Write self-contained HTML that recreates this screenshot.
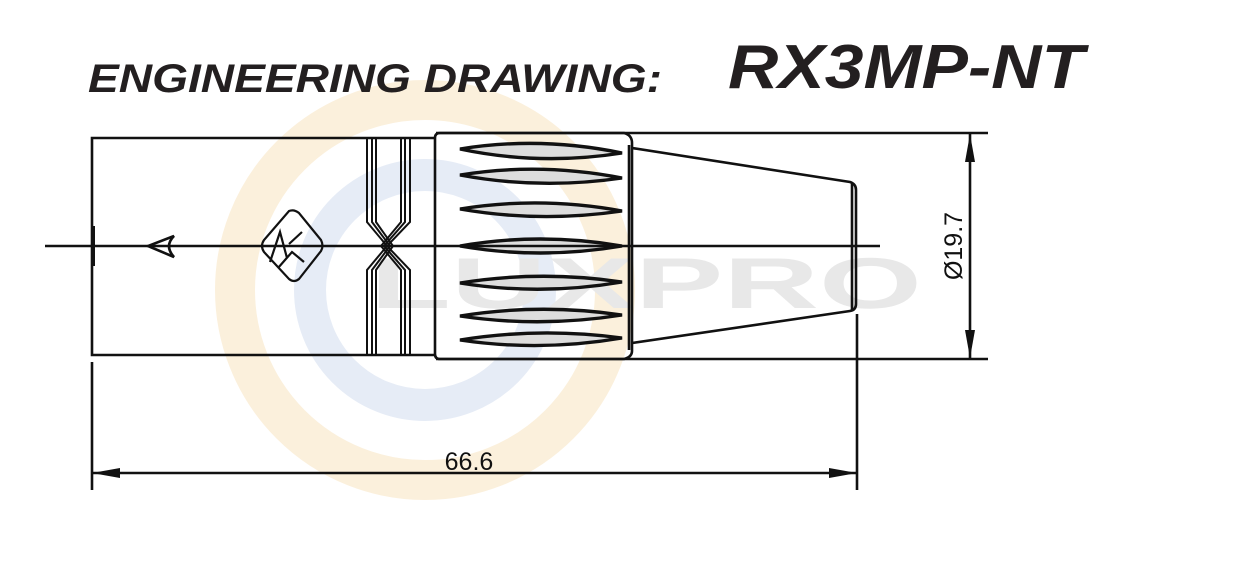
<!DOCTYPE html>
<html><head><meta charset="utf-8"><style>
html,body{margin:0;padding:0;background:#fff;width:1238px;height:568px;overflow:hidden}
</style></head><body>
<svg width="1238" height="568" viewBox="0 0 1238 568" xmlns="http://www.w3.org/2000/svg">
<!-- watermark -->
<circle cx="425" cy="290" r="190" fill="none" stroke="#fbf0dc" stroke-width="40"/>
<circle cx="425" cy="290" r="115" fill="none" stroke="#e6ecf6" stroke-width="32"/>
<text x="370" y="308" font-family="Liberation Sans, sans-serif" font-weight="bold" font-size="72" fill="#e8e8e8" textLength="552" lengthAdjust="spacingAndGlyphs">LUXPRO</text>
<!-- title -->
<text x="88" y="92" font-family="Liberation Sans, sans-serif" font-weight="bold" font-style="italic" font-size="40" fill="#231f20" textLength="574" lengthAdjust="spacingAndGlyphs">ENGINEERING DRAWING:</text>
<text x="728" y="88" font-family="Liberation Sans, sans-serif" font-weight="bold" font-style="italic" font-size="62" fill="#231f20" textLength="356" lengthAdjust="spacingAndGlyphs">RX3MP-NT</text>
<g fill="none" stroke="#111" stroke-width="2.6">
<!-- body -->
<path d="M436 138 H92 V355 H436"/>
<line x1="93" y1="226" x2="93" y2="266" stroke-width="4"/>
<!-- grooves -->
<path d="M367 138 V222 L387 246 L367 270 V355" stroke-width="2"/>
<path d="M372 138 V222 L390 246 L372 270 V355" stroke-width="2"/>
<path d="M376 138 V222 L393 246 L376 270 V355" stroke-width="2"/>
<path d="M410 138 V222 L387 246 L410 270 V355" stroke-width="2"/>
<path d="M405 138 V222 L384 246 L405 270 V355" stroke-width="2"/>
<path d="M401 138 V222 L381 246 L401 270 V355" stroke-width="2"/>
<!-- nut -->
<path d="M440 133 H624 Q632 135 632 143 V351 Q632 357 624 359 H440 Q435 359 435 354 V138 Q435 133 440 133 Z"/>
<line x1="629" y1="145" x2="629" y2="350"/>
<g stroke-width="3.4" fill="#ddd">
<path d="M460 149 Q540 136 622 153 Q540 166 460 149 Z"/>
<path d="M460 175 Q540 162 622 178 Q540 190 460 175 Z"/>
<path d="M460 209 Q540 196 622 211 Q540 223 460 209 Z"/>
<path d="M460 246 Q540 232 622 246 Q540 260 460 246 Z"/>
<path d="M460 283 Q540 270 622 282 Q540 296 460 283 Z"/>
<path d="M460 316 Q540 303 622 315 Q540 328 460 316 Z"/>
<path d="M460 340 Q540 327 622 338 Q540 352 460 340 Z"/>
</g>
<!-- cone -->
<path d="M632 148 L850 182 Q856 184 856 190 V304 Q856 310 850 311 L632 343"/>
<line x1="852" y1="184" x2="852" y2="310"/>
<!-- logo -->
<path d="M289 211 Q294 209 299 213 L321 240 Q324 246 321 251 L299 279 Q294 283 289 279 L264 252 Q260 246 264 240 Z" stroke-width="2.2"/>
<path d="M270 262 L280 232 L287 258 M278 268 L292 252 L304 262 M289 244 L302 232" stroke-width="2.2"/>
<!-- extension & dim lines -->
<line x1="436" y1="133" x2="988" y2="133"/>
<line x1="436" y1="359" x2="988" y2="359"/>
<line x1="92" y1="362" x2="92" y2="490"/>
<line x1="857" y1="314" x2="857" y2="490"/>
<line x1="92" y1="473" x2="857" y2="473"/>
<line x1="970" y1="134" x2="970" y2="358"/>
<!-- centerline -->
<line x1="45" y1="246" x2="880" y2="246"/>
<path d="M174 236 L148 246 L174 257 Q164 246 174 236 Z"/>
</g>
<g fill="#111">
<path d="M92 473 L120 468 L120 478 Z"/>
<path d="M857 473 L829 468 L829 478 Z"/>
<path d="M970 134 L965 162 L975 162 Z"/>
<path d="M970 358 L965 330 L975 330 Z"/>
</g>
<text x="469" y="470" text-anchor="middle" font-family="Liberation Sans, sans-serif" font-size="25" fill="#111">66.6</text>
<text transform="translate(962,246) rotate(-90)" text-anchor="middle" font-family="Liberation Sans, sans-serif" font-size="25" fill="#111">Ø19.7</text>
</svg>
</body></html>
